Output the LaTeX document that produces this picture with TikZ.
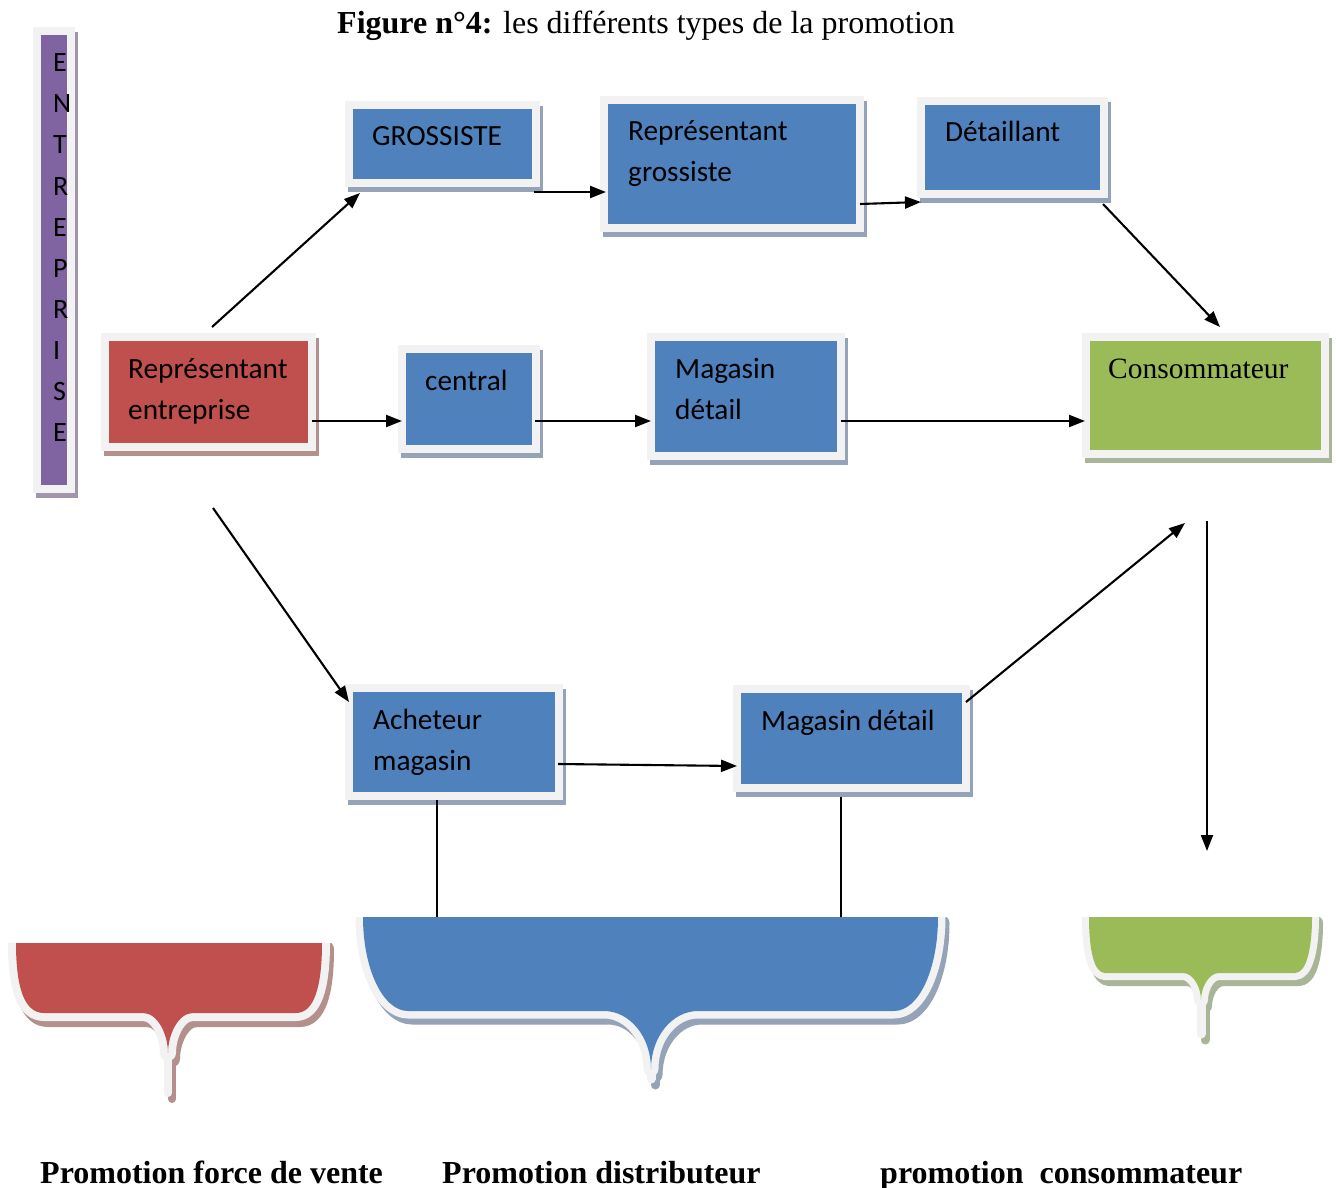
\documentclass[tikz,border=0pt]{standalone}
\usepackage{fontspec}
\setmainfont{Liberation Serif}
\newfontfamily\calib{Carlito}
\usetikzlibrary{arrows.meta,calc}
\definecolor{frm}{HTML}{F2F2F2}
\definecolor{bl}{HTML}{4F81BD}
\definecolor{rd}{HTML}{C0504D}
\definecolor{gr}{HTML}{9BBB59}
\definecolor{pu}{HTML}{8064A2}
\definecolor{bls}{HTML}{94A3B8}
\definecolor{rds}{HTML}{B38F8E}
\definecolor{grs}{HTML}{A9B597}
\definecolor{pus}{HTML}{A195AE}
\tikzset{
 boxs/.style={draw=frm, line width=8pt, inner sep=0pt, outer sep=4pt},
 txt/.style={inner sep=0pt, anchor=base west, font=\calib\fontsize{29.3}{41}\selectfont},
 arr/.style={line width=2.1pt, -{Triangle[length=16pt,width=12pt]}},
 lnk/.style={line width=2.1pt},
 lbl/.style={inner sep=0pt, anchor=base west, font=\bfseries\fontsize{32}{38}\selectfont}
}
\newcommand\mkbox[7]{%
 \fill[#7] (#2+3,#3+5) rectangle (#4+3,#5+5);
 \node[boxs, fill=#6, minimum width={#4-#2-8}, minimum height={#5-#3-8}] (#1) at ({(#2+#4)/2},{(#3+#5)/2}) {};
}
\def\redpath{(16,943) .. controls (16,987) and (24,1013) .. (44,1013) -- (143,1013) .. controls (158,1013) and (168,1035) .. (168,1053) .. controls (168,1035) and (178,1013) .. (193,1013) -- (296,1013) .. controls (314,1013) and (322,987) .. (322,943) -- cycle}
\def\bluepath{(363,917) .. controls (363,969) and (383,1011) .. (408,1011) -- (604,1011) .. controls (630,1011) and (651,1037) .. (651,1069) .. controls (651,1037) and (672,1011) .. (698,1011) -- (894,1011) .. controls (919,1011) and (938,969) .. (938,917) -- cycle}
\def\greenpath{(1089,917) .. controls (1089,950) and (1094,973) .. (1105,973) -- (1183,973) .. controls (1193,973) and (1201,987) .. (1201,1000) .. controls (1201,987) and (1209,973) .. (1219,973) -- (1295,973) .. controls (1306,973) and (1312,950) .. (1312,917) -- cycle}
\begin{document}
\begin{tikzpicture}[x=1pt,y=-1pt]
\fill[white] (0,0) rectangle (1336,1188);
\useasboundingbox (0,0) rectangle (1336,1188);

% title
\node[inner sep=0pt, anchor=base west, font=\fontsize{32}{38}\selectfont] (title) at (337,34) {\textbf{Figure n°4:} les différents types de la promotion};

% ENTREPRISE bar
\mkbox{ent}{33}{27}{75}{493}{pu}{pus}
\node[txt, font=\calib\fontsize{28}{41.11}\selectfont] (entt) at (53,71.7) {\vtop{\hbox{E}\hbox{N}\hbox{T}\hbox{R}\hbox{E}\hbox{P}\hbox{R}\hbox{I}\hbox{S}\hbox{E}}};

% boxes
\mkbox{gros}{345}{101}{540}{187}{bl}{bls}
\mkbox{repg}{600}{96}{864}{232}{bl}{bls}
\mkbox{det}{917}{97}{1108}{198}{bl}{bls}
\mkbox{repe}{101}{333}{316}{451}{rd}{rds}
\mkbox{cent}{398}{345}{540}{453}{bl}{bls}
\mkbox{mag1}{647}{333}{845}{460}{bl}{bls}
\mkbox{cons}{1082}{333}{1329}{458}{gr}{grs}
\mkbox{ach}{345}{684}{563}{800}{bl}{bls}
\mkbox{mag2}{733}{685}{970}{792}{bl}{bls}

\node[txt] (tgros) at ($(gros.north west)+(27,45)$) {GROSSISTE};
\node[txt] (trepg) at ($(repg.north west)+(28,45)$) {\vtop{\hbox{Représentant}\hbox{grossiste}}};
\node[txt] (tdet) at ($(det.north west)+(28,45)$) {Détaillant};
\node[txt] (trepe) at ($(repe.north west)+(27,45)$) {\vtop{\hbox{Représentant}\hbox{entreprise}}};
\node[txt] (tcent) at ($(cent.north west)+(27,45)$) {central};
\node[txt] (tmag1) at ($(mag1.north west)+(28,45)$) {\vtop{\hbox{Magasin}\hbox{détail}}};
\node[txt, font=\fontsize{29.5}{41}\selectfont] (tcons) at ($(cons.north west)+(26,45)$) {Consommateur};
\node[txt] (tach) at ($(ach.north west)+(28,45)$) {\vtop{\hbox{Acheteur}\hbox{magasin}}};
\node[txt] (tmag2) at ($(mag2.north west)+(28,45)$) {Magasin détail};

% callouts
\begin{scope}
 \clip (0,943) rectangle (1336,1188);
 \begin{scope}[shift={(4,6)}]
  \filldraw[rds, line width=16pt, line join=round] \redpath;
  \draw[rds, line width=8pt, line cap=round] (168,1045) -- (168,1093);
 \end{scope}
 \filldraw[frm, line width=16pt, line join=round] \redpath;
 \draw[frm, line width=8pt, line cap=round] (168,1045) -- (168,1093);
 \fill[rd] \redpath;
\end{scope}
\begin{scope}
 \clip (0,917) rectangle (1336,1188);
 \begin{scope}[shift={(4,6)}]
  \filldraw[bls, line width=15pt, line join=round] \bluepath;
  \draw[bls, line width=9pt, line cap=round] (651,1060) -- (651,1079);
 \end{scope}
 \filldraw[frm, line width=15pt, line join=round] \bluepath;
 \draw[frm, line width=9pt, line cap=round] (651,1060) -- (651,1079);
 \fill[bl] \bluepath;
\end{scope}
\begin{scope}
 \clip (0,917) rectangle (1336,1188);
 \begin{scope}[shift={(4,6)}]
  \filldraw[grs, line width=14pt, line join=round] \greenpath;
  \draw[grs, line width=9pt, line cap=round] (1201,995) -- (1201,1034);
 \end{scope}
 \filldraw[frm, line width=14pt, line join=round] \greenpath;
 \draw[frm, line width=9pt, line cap=round] (1201,995) -- (1201,1034);
 \fill[gr] \greenpath;
\end{scope}
\coordinate (callB) at (650,917);
\coordinate (cend) at (1207,851);

% connectors
\draw[arr] ($(repe.north)+(3.5,-6)$) -- ($(gros.south west)+(15,6)$);
\draw[arr] ($(gros.south east)+(-6,5)$) -- ($(repg.south west)+(6,-40)$);
\draw[arr] ($(repg.north east)+(-4,108)$) -- ($(det.south west)+(4,4)$);
\draw[arr] ($(det.south east)+(-5,6)$) -- ($(cons.north)+(14.5,-6)$);
\draw[arr] ($(repe.south east)+(-4,-30)$) -- ($(cent.south west)+(4,-32)$);
\draw[arr] ($(cent.south east)+(-5,-32)$) -- ($(mag1.south west)+(4,-39)$);
\draw[arr] ($(mag1.south east)+(-4,-39)$) -- ($(cons.south west)+(3,-37)$);
\draw[arr] ($(repe.south)+(4.5,57)$) -- ($(ach.north west)+(4,18)$);
\draw[arr] ($(ach.south east)+(-5,-36)$) -- ($(mag2.south west)+(4,-26)$);
\draw[arr] ($(mag2.north east)+(-4,17)$) -- ($(cons.south)+(-20.5,65)$);
\draw[arr] ($(cons.south)+(1.5,63)$) -- (cend);
\draw[lnk] ($(ach.south)+(-17,0)$) coordinate (l1) -- (l1 |- callB);
\draw[lnk] ($(mag2.south)+(-10.5,5)$) coordinate (l2) -- (l2 |- callB);

% bottom labels
\node[lbl] (lab1) at (40,1183) {Promotion force de vente};
\node[lbl] (lab2) at (442,1183) {Promotion distributeur};
\node[lbl] (lab3) at (880,1183) {promotion\ \ consommateur};
\end{tikzpicture}
\end{document}
